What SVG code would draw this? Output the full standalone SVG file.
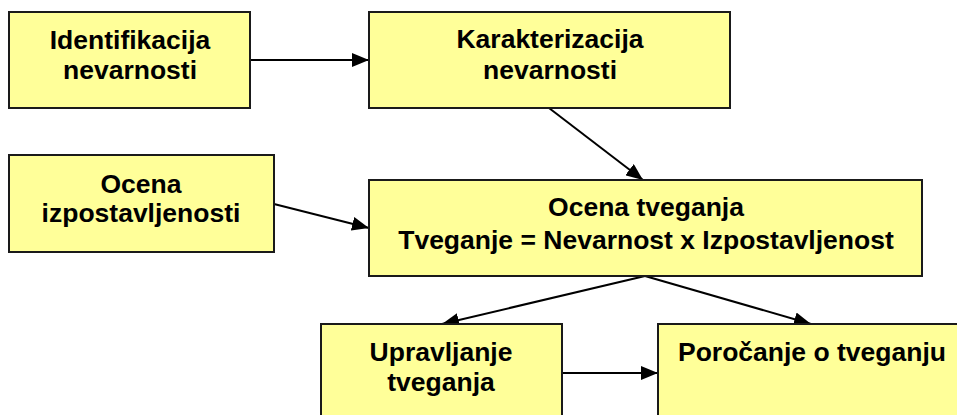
<svg xmlns="http://www.w3.org/2000/svg" width="957" height="415" viewBox="0 0 957 415">
<style>
.box{fill:#FFFF99;stroke:#1a1a1a;stroke-width:2}
.t{font-family:"Liberation Sans",Arial,sans-serif;font-weight:bold;font-size:26.5px;fill:#000;text-anchor:middle}
.c{stroke:#000;stroke-width:2;fill:none;marker-end:url(#ah)}
</style>
<defs>
<marker id="ah" markerUnits="userSpaceOnUse" markerWidth="18" markerHeight="14" refX="17" refY="7" orient="auto">
<path d="M0,0 L17,7 L0,14 Z" fill="#000"/>
</marker>
</defs>
<rect width="957" height="415" fill="#fff"/>
<g id="connectors">
<line class="c" x1="250" y1="60" x2="369" y2="60"/>
<line class="c" x1="549" y1="108" x2="643" y2="180"/>
<line class="c" x1="274" y1="204" x2="369" y2="228"/>
<line class="c" x1="645" y1="276" x2="442" y2="324"/>
<line class="c" x1="645" y1="276" x2="811" y2="324"/>
<line class="c" x1="562" y1="373" x2="658" y2="373"/>
</g>
<g id="n1">
<rect class="box" x="9" y="12" width="241" height="96"/>
<text class="t" x="130" y="49">Identifikacija</text>
<text class="t" x="130" y="79">nevarnosti</text>
</g>
<g id="n2">
<rect class="box" x="369" y="12" width="361" height="96"/>
<text class="t" x="550" y="48">Karakterizacija</text>
<text class="t" x="550" y="79">nevarnosti</text>
</g>
<g id="n3">
<rect class="box" x="9" y="155" width="265" height="97"/>
<text class="t" x="141" y="193">Ocena</text>
<text class="t" x="141" y="222">izpostavljenosti</text>
</g>
<g id="n4">
<rect class="box" x="369" y="180" width="553" height="96"/>
<text class="t" x="646" y="216">Ocena tveganja</text>
<text class="t" x="646" y="249">Tveganje = Nevarnost x Izpostavljenost</text>
</g>
<g id="n5">
<rect class="box" x="321" y="324" width="241" height="100"/>
<text class="t" x="441" y="361">Upravljanje</text>
<text class="t" x="441" y="391">tveganja</text>
</g>
<g id="n6">
<rect class="box" x="658" y="324" width="306" height="100"/>
<text class="t" x="812" y="361">Poročanje o tveganju</text>
</g>
</svg>
